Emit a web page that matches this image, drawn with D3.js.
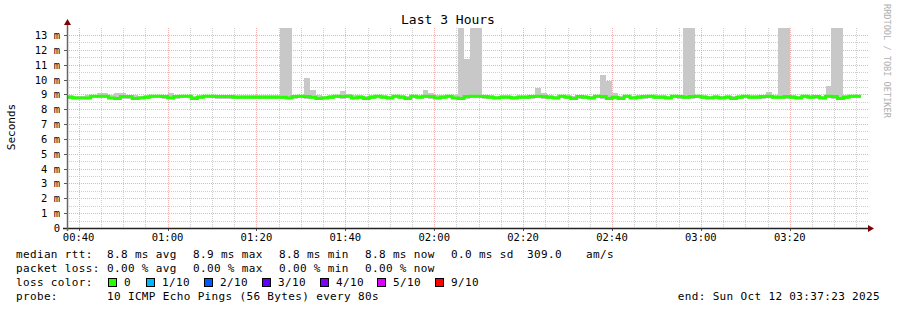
<!DOCTYPE html>
<html>
<head>
<meta charset="utf-8">
<script src="https://cdn.jsdelivr.net/npm/d3@7/dist/d3.min.js"></script>
<style>
  html, body { margin: 0; padding: 0; background: #ffffff; }
  svg { display: block; }
  text { font-family: "DejaVu Sans Mono", monospace; }
</style>
</head>
<body>
<svg id="chart" width="897" height="310"></svg>
<script>
// ---------- data ----------
const title = "Last 3 Hours";
const yAxisTitle = "Seconds";
const startTime = new Date(2025, 9, 12, 0, 37, 23);
const endTime = new Date(2025, 9, 12, 3, 37, 23);
const stepSeconds = 80;
const yMaxMs = 13.47;
const yTickValues = [0, 1, 2, 3, 4, 5, 6, 7, 8, 9, 10, 11, 12, 13];
const yTickLabels = ["0", "1 m", "2 m", "3 m", "4 m", "5 m", "6 m", "7 m", "8 m", "9 m", "10 m", "11 m", "12 m", "13 m"];

// median rtt per 80 s step (ms)
const medianMs = [
  8.80,8.75,8.75,8.75,8.88,8.88,8.88,8.75,8.72,8.85,
  8.85,8.72,8.75,8.80,8.88,8.88,8.85,8.75,8.85,8.88,
  8.88,8.72,8.80,8.88,8.88,8.85,8.85,8.85,8.80,8.80,
  8.80,8.80,8.80,8.80,8.80,8.80,8.80,8.75,8.85,8.88,
  8.85,8.80,8.72,8.75,8.80,8.88,8.85,8.88,8.75,8.80,
  8.72,8.80,8.88,8.80,8.75,8.88,8.80,8.72,8.88,8.80,
  8.88,8.85,8.75,8.80,8.88,8.75,8.72,8.85,8.88,8.88,
  8.85,8.80,8.75,8.80,8.80,8.75,8.80,8.80,8.85,8.88,
  8.85,8.80,8.75,8.88,8.80,8.72,8.85,8.80,8.75,8.88,
  8.85,8.72,8.80,8.72,8.88,8.75,8.80,8.85,8.88,8.80,
  8.80,8.75,8.88,8.85,8.80,8.85,8.88,8.80,8.75,8.80,
  8.75,8.80,8.72,8.80,8.88,8.80,8.80,8.85,8.88,8.80,
  8.80,8.85,8.80,8.75,8.88,8.80,8.85,8.75,8.88,8.85,
  8.72,8.80,8.88,8.88
];
// highest ping per step (ms) - smoke top
const smokeHiMs = [
  8.94,8.92,8.92,8.95,8.98,9.10,9.10,8.95,9.10,9.10,
  8.97,8.95,8.92,8.95,8.98,8.98,8.97,9.10,8.97,8.98,
  8.98,8.92,8.95,8.98,8.98,8.95,8.95,8.95,8.94,8.94,
  8.94,8.94,8.94,8.94,8.94,8.94,15.0,15.0,8.97,8.98,
  10.08,9.30,8.95,8.92,8.94,8.98,9.22,9.00,8.95,8.94,
  8.92,8.95,8.98,8.95,8.92,8.98,8.94,8.92,8.98,8.95,
  9.27,9.10,8.95,8.95,8.98,8.95,15.0,11.40,15.0,15.0,
  8.97,8.95,8.92,8.94,8.94,8.92,8.94,8.94,8.97,9.43,
  9.09,8.95,8.92,8.98,8.94,8.92,8.97,8.94,8.92,8.98,
  10.30,9.90,9.09,8.92,8.98,8.92,8.94,8.97,8.98,8.94,
  8.94,8.92,8.98,8.97,15.0,15.0,8.98,8.94,8.92,8.95,
  8.92,8.94,8.92,8.94,8.98,8.94,8.94,8.97,9.16,8.94,
  15.0,15.0,8.95,8.92,8.98,8.94,8.97,8.92,9.56,15.0,
  15.0,8.95,8.98,8.98
];
// lowest ping per step (ms) - smoke bottom
const smokeLoMs = [
  8.70,8.66,8.66,8.66,8.74,8.74,8.74,8.66,8.64,8.72,
  8.72,8.64,8.66,8.70,8.74,8.74,8.72,8.66,8.72,8.74,
  8.74,8.64,8.70,8.74,8.74,8.72,8.72,8.72,8.70,8.70,
  8.70,8.70,8.70,8.70,8.70,8.70,8.68,8.66,8.72,8.74,
  8.72,8.70,8.64,8.66,8.70,8.74,8.72,8.74,8.66,8.70,
  8.64,8.70,8.74,8.70,8.66,8.74,8.70,8.64,8.74,8.70,
  8.74,8.72,8.66,8.70,8.74,8.66,8.64,8.72,8.74,8.74,
  8.72,8.70,8.66,8.70,8.70,8.66,8.70,8.70,8.72,8.74,
  8.72,8.70,8.66,8.74,8.70,8.64,8.72,8.70,8.66,8.74,
  8.72,8.64,8.70,8.64,8.74,8.66,8.70,8.72,8.74,8.70,
  8.70,8.66,8.74,8.72,8.70,8.72,8.74,8.70,8.66,8.70,
  8.66,8.70,8.64,8.70,8.74,8.70,8.70,8.72,8.74,8.70,
  8.70,8.72,8.70,8.66,8.74,8.70,8.72,8.66,8.74,8.72,
  8.64,8.70,8.74,8.74
];

const legendRtt = ["median rtt:", "8.8 ms avg", "8.9 ms max", "8.8 ms min", "8.8 ms now", "0.0 ms sd", "309.0", "am/s"];
const legendLoss = ["packet loss:", "0.00 % avg", "0.00 % max", "0.00 % min", "0.00 % now"];
const lossLabels = ["0", "1/10", "2/10", "3/10", "4/10", "5/10", "9/10"];
const lossColors = ["#26ff00", "#00b8ff", "#0059ff", "#5e00ff", "#7e00ff", "#dd00ff", "#ff0000"];
const probeText = ["probe:", "10 ICMP Echo Pings (56 Bytes) every 80s"];
const endText = "end: Sun Oct 12 03:37:23 2025";
const watermark = "RRDTOOL / TOBI OETIKER";

// ---------- layout ----------
const L = 67, R = 867, T = 28, B = 228;
const svg = d3.select("#chart");

const x = d3.scaleTime().domain([startTime, endTime]).range([L, R]);
const y = d3.scaleLinear().domain([0, yMaxMs]).range([B, T]);

const stepTime = i => new Date(startTime.getTime() + i * stepSeconds * 1000);

svg.append("defs").append("clipPath").attr("id", "plotclip")
  .append("rect").attr("x", L).attr("y", T).attr("width", R - L + 1).attr("height", B - T);

// ---------- grid ----------
const grid = svg.append("g");
const minorY = d3.range(0, 13.5, 0.5).filter(v => v % 1 !== 0);
grid.selectAll("line.hmin").data(minorY).join("line")
  .attr("x1", L).attr("x2", R + 1)
  .attr("y1", d => Math.round(y(d)) + 0.5).attr("y2", d => Math.round(y(d)) + 0.5)
  .attr("stroke", "#cfcfcf").attr("stroke-dasharray", "1,1");
const minorX = d3.timeMinute.every(5).range(startTime, endTime).filter(d => d.getMinutes() % 20 !== 0);
grid.selectAll("line.vmin").data(minorX).join("line")
  .attr("x1", d => Math.round(x(d)) + 0.5).attr("x2", d => Math.round(x(d)) + 0.5)
  .attr("y1", T).attr("y2", B)
  .attr("stroke", "#cfcfcf").attr("stroke-dasharray", "1,1");
grid.selectAll("line.hmaj").data(yTickValues.filter(v => v > 0)).join("line")
  .attr("x1", L).attr("x2", R + 1)
  .attr("y1", d => Math.round(y(d)) + 0.5).attr("y2", d => Math.round(y(d)) + 0.5)
  .attr("stroke", "#f2b0b0").attr("stroke-dasharray", "1,1");
const majorX = d3.timeMinute.every(20).range(startTime, endTime);
grid.selectAll("line.vmaj").data(majorX).join("line")
  .attr("x1", d => Math.round(x(d)) + 0.5).attr("x2", d => Math.round(x(d)) + 0.5)
  .attr("y1", T).attr("y2", B)
  .attr("stroke", "#f2b0b0").attr("stroke-dasharray", "1,1");

// ---------- smoke ----------
const plot = svg.append("g").attr("clip-path", "url(#plotclip)");
const steps = d3.range(medianMs.length);
plot.selectAll("rect.smoke").data(steps).join("rect")
  .attr("x", i => x(stepTime(i)))
  .attr("width", i => x(stepTime(i + 1)) - x(stepTime(i)))
  .attr("y", i => y(smokeHiMs[i]))
  .attr("height", i => y(smokeLoMs[i]) - y(smokeHiMs[i]))
  .attr("fill", "#c8c8c8")
  .attr("shape-rendering", "crispEdges");

// ---------- median ----------
const medPts = steps.map(i => [stepTime(i), medianMs[i]]);
medPts.push([stepTime(medianMs.length), medianMs[medianMs.length - 1]]);
plot.append("path")
  .datum(medPts)
  .attr("fill", "none")
  .attr("stroke", lossColors[0])
  .attr("stroke-width", 3)
  .attr("d", d3.line().x(d => x(d[0])).y(d => y(d[1])).curve(d3.curveStepAfter));

// ---------- axes ----------
const axes = svg.append("g");
// small tick marks on axes
axes.selectAll("line.yt").data(yTickValues).join("line")
  .attr("x1", L - 3).attr("x2", L)
  .attr("y1", d => Math.round(y(d)) + 0.5).attr("y2", d => Math.round(y(d)) + 0.5)
  .attr("stroke", "#555");
axes.selectAll("line.xt").data(majorX).join("line")
  .attr("x1", d => Math.round(x(d)) + 0.5).attr("x2", d => Math.round(x(d)) + 0.5)
  .attr("y1", B).attr("y2", B + 3)
  .attr("stroke", "#555");
axes.append("line").attr("x1", L - 4).attr("x2", R + 2).attr("y1", B + 0.5).attr("y2", B + 0.5)
  .attr("stroke", "#222").attr("stroke-width", 1.5);
axes.append("line").attr("x1", L + 0.5).attr("x2", L + 0.5).attr("y1", B + 3).attr("y2", T - 6)
  .attr("stroke", "#666").attr("stroke-width", 1.5);
axes.append("path").attr("d", `M${R + 1},${B - 3} L${R + 7},${B + 0.5} L${R + 1},${B + 4} Z`).attr("fill", "#7f0000");
axes.append("path").attr("d", `M${L - 3},${T - 3} L${L + 0.5},${T - 9} L${L + 4},${T - 3} Z`).attr("fill", "#7f0000");

const ax = svg.append("g");
ax.selectAll("text.yl").data(yTickValues).join("text")
  .attr("x", 60).attr("y", d => y(d) + 4)
  .attr("text-anchor", "end").attr("font-size", "10.5px").attr("fill", "#000")
  .text((d, i) => yTickLabels[i]);
ax.selectAll("text.xl").data(majorX).join("text")
  .attr("x", d => x(d)).attr("y", 241)
  .attr("text-anchor", "middle").attr("font-size", "10.5px").attr("fill", "#000")
  .text(d => d3.timeFormat("%H:%M")(d));

svg.append("text").attr("x", 448).attr("y", 24).attr("text-anchor", "middle")
  .attr("font-size", "13px").attr("fill", "#000").text(title);
svg.append("text").attr("transform", "translate(15,127) rotate(-90)")
  .attr("text-anchor", "middle").attr("font-size", "11px").attr("fill", "#000").text(yAxisTitle);
svg.append("text").attr("transform", "translate(884,4) rotate(90)")
  .attr("text-anchor", "start").attr("font-size", "8.6px").attr("fill", "#b0b0b0").text(watermark);

// ---------- legend ----------
const lg = svg.append("g").attr("font-size", "11px").attr("fill", "#000")
  .style("letter-spacing", "0.35px");
const colX = [16, 107, 193, 279, 365, 451, 527, 586];
const rowY = [258, 272, 286, 300];
lg.selectAll("text.r1").data(legendRtt).join("text")
  .attr("x", (d, i) => colX[i]).attr("y", rowY[0]).text(d => d);
lg.selectAll("text.r2").data(legendLoss).join("text")
  .attr("x", (d, i) => colX[i]).attr("y", rowY[1]).text(d => d);
lg.append("text").attr("x", 16).attr("y", rowY[2]).text("loss color:");
const boxX = [108, 146, 204, 262, 320, 377, 435];
lossLabels.forEach((lab, i) => {
  lg.append("rect").attr("x", boxX[i] + 0.5).attr("y", 278.5).attr("width", 8).attr("height", 8)
    .attr("fill", lossColors[i]).attr("stroke", "#000").attr("stroke-width", 1);
  lg.append("text").attr("x", boxX[i] + 16).attr("y", rowY[2]).text(lab);
});
lg.append("text").attr("x", 16).attr("y", rowY[3]).text(probeText[0]);
lg.append("text").attr("x", 107).attr("y", rowY[3]).text(probeText[1]);
lg.append("text").attr("x", 880).attr("y", rowY[3]).attr("text-anchor", "end").text(endText);
</script>
</body>
</html>
